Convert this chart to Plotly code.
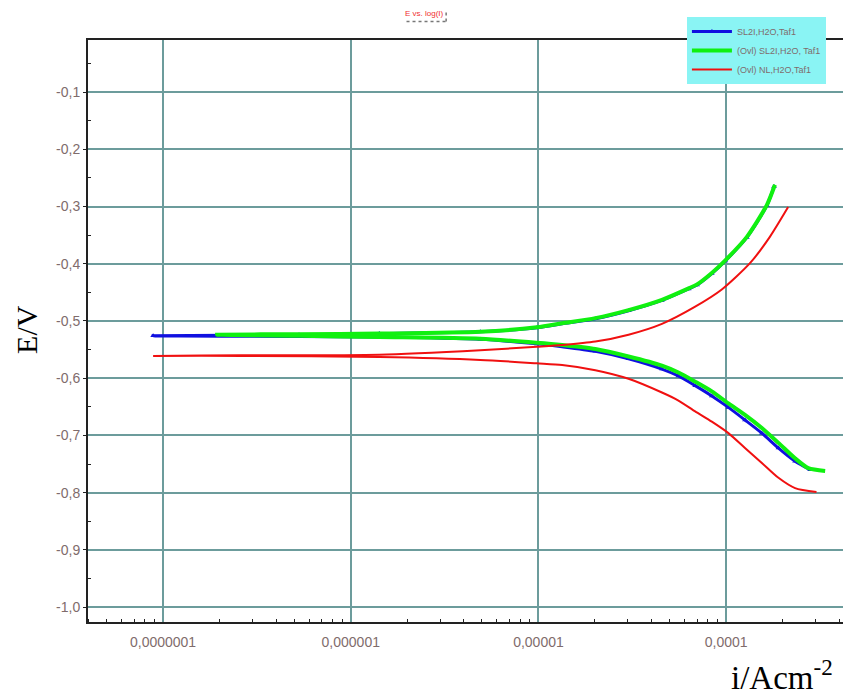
import plotly.graph_objects as go

# ---- data ----
blue_name = "SL2I,H2O,Taf1"
blue_i = [2.80e-4, 2.33e-4, 1.90e-4, 1.55e-4, 1.26e-4, 1.028e-4, 8.39e-5, 6.84e-5, 5.57e-5, 4.55e-5, 3.02e-5, 2.01e-5,
          1.337e-5, 9.8e-6, 4.9e-6, 1.42e-6, 5.3e-7, 8.85e-8,
          5.3e-7, 1.42e-6, 4.9e-6, 9.8e-6, 1.337e-5, 2.01e-5, 3.02e-5, 4.55e-5, 6.31e-5, 7.0e-5, 8.39e-5, 9.9e-5,
          1.29e-4, 1.65e-4, 1.80e-4]
blue_E = [-0.760, -0.745, -0.722, -0.696, -0.673, -0.651, -0.631, -0.613, -0.596, -0.584, -0.566, -0.553,
          -0.545, -0.540, -0.532, -0.528, -0.527, -0.526,
          -0.524, -0.522, -0.519, -0.512, -0.505, -0.496, -0.482, -0.464, -0.444, -0.437, -0.417, -0.395,
          -0.354, -0.298, -0.265]

green_name = "(Ovl) SL2I,H2O, Taf1"
green_i = [3.37e-4, 2.74e-4, 2.33e-4, 1.90e-4, 1.55e-4, 1.26e-4, 1.028e-4, 8.39e-5, 6.84e-5, 5.57e-5, 4.55e-5, 3.02e-5,
           2.01e-5, 1.337e-5, 9.8e-6, 4.9e-6, 1.42e-6, 5.34e-7, 1.94e-7,
           5.3e-7, 1.42e-6, 4.9e-6, 9.8e-6, 1.337e-5, 2.01e-5, 3.02e-5, 4.55e-5, 6.31e-5, 7.0e-5, 8.39e-5, 9.9e-5,
           1.29e-4, 1.65e-4, 1.82e-4]
green_E = [-0.762, -0.757, -0.740, -0.713, -0.687, -0.664, -0.644, -0.623, -0.606, -0.590, -0.578, -0.562,
           -0.549, -0.542, -0.538, -0.531, -0.528, -0.526, -0.524,
           -0.523, -0.522, -0.519, -0.511, -0.504, -0.495, -0.481, -0.463, -0.443, -0.436, -0.416, -0.394,
           -0.353, -0.297, -0.262]

red_name = "(Ovl) NL,H2O,Taf1"
red_i = [3.03e-4, 2.33e-4, 1.90e-4, 1.55e-4, 1.26e-4, 1.028e-4, 8.39e-5, 6.84e-5, 5.57e-5, 4.55e-5, 3.02e-5, 2.01e-5,
         1.337e-5, 9.8e-6, 4.9e-6, 1.42e-6, 2.63e-7, 8.85e-8,
         2.63e-7, 1.42e-6, 4.9e-6, 9.8e-6, 1.337e-5, 2.01e-5, 3.02e-5, 4.55e-5, 6.84e-5, 9.48e-5, 1.34e-4,
         1.71e-4, 2.14e-4]
red_E = [-0.799, -0.792, -0.774, -0.748, -0.722, -0.696, -0.676, -0.658, -0.639, -0.625, -0.601, -0.586,
         -0.577, -0.574, -0.568, -0.563, -0.561, -0.561,
         -0.560, -0.559, -0.551, -0.545, -0.542, -0.536, -0.524, -0.505, -0.475, -0.445, -0.399,
         -0.353, -0.301]

x_tickvals = [1e-7, 1e-6, 1e-5, 1e-4]
x_ticktext = ["0,0000001", "0,000001", "0,00001", "0,0001"]
y_tickvals = [-0.1, -0.2, -0.3, -0.4, -0.5, -0.6, -0.7, -0.8, -0.9, -1.0]
y_ticktext = ["-0,1", "-0,2", "-0,3", "-0,4", "-0,5", "-0,6", "-0,7", "-0,8", "-0,9", "-1,0"]

x_minor = [m * 10.0 ** d for d in range(-8, -3) for m in range(2, 10)]
y_minor = [-0.05 - 0.1 * k for k in range(10)]

GRID = "#6c9c9c"
LABEL = "#7f6c6c"

fig = go.Figure()
fig.add_trace(go.Scatter(x=blue_i, y=blue_E, name=blue_name, mode="lines+markers",
                         line=dict(color="#1010e0", width=3, shape="spline", smoothing=0.7),
                         marker=dict(symbol="triangle-up", size=5, color="#1010e0")))
fig.add_trace(go.Scatter(x=green_i, y=green_E, name=green_name, mode="lines",
                         line=dict(color="#10f010", width=4, shape="spline", smoothing=0.7)))
fig.add_trace(go.Scatter(x=red_i, y=red_E, name=red_name, mode="lines",
                         line=dict(color="#f01010", width=2, shape="spline", smoothing=0.7)))

fig.update_xaxes(type="log", range=[-7.40, -3.34],
                 tickmode="array", tickvals=x_tickvals, ticktext=x_ticktext,
                 ticks="", ticklabelstandoff=6,
                 showgrid=True, gridcolor=GRID, gridwidth=2,
                 showline=True, linecolor="#222", linewidth=2, mirror=True,
                 tickfont=dict(family="Liberation Sans, Arial", size=14, color=LABEL),
                 minor=dict(tickmode="array", tickvals=x_minor, ticks="inside", ticklen=3,
                            tickcolor="#222", showgrid=False),
                 zeroline=False, automargin=False)
fig.update_yaxes(range=[-1.026, -0.009],
                 tickmode="array", tickvals=y_tickvals, ticktext=y_ticktext,
                 ticks="outside", ticklen=3, tickcolor="#222",
                 showgrid=True, gridcolor=GRID, gridwidth=2,
                 showline=True, linecolor="#222", linewidth=2,
                 tickfont=dict(family="Liberation Sans, Arial", size=14, color=LABEL),
                 minor=dict(tickmode="array", tickvals=y_minor, ticks="inside", ticklen=3,
                            tickcolor="#222", showgrid=False),
                 zeroline=False, automargin=False)

fig.add_annotation(text="E/V", xref="paper", yref="paper", x=-0.080, y=0.502,
                   xanchor="center", yanchor="middle", borderpad=0,
                   textangle=-90, showarrow=False,
                   font=dict(family="Liberation Serif, Times New Roman", size=30, color="black"))
fig.add_annotation(text="i/Acm<sup>-2</sup>", xref="paper", yref="paper", x=0.911, y=-0.052,
                   xanchor="center", yanchor="top",
                   showarrow=False,
                   font=dict(family="Liberation Serif, Times New Roman", size=33, color="black"))
fig.add_annotation(text="E vs. log(I)", xref="paper", yref="paper", x=0.442, y=1.045,
                   xanchor="center", yanchor="middle",
                   showarrow=False,
                   font=dict(family="Liberation Sans, Arial", size=8, color="#f03030"))
fig.add_shape(type="line", xref="paper", yref="paper", x0=0.418, x1=0.47, y0=1.032, y1=1.032,
              line=dict(color="#777", width=1.5, dash="dot"))
fig.add_shape(type="line", xref="paper", yref="paper", x0=0.47, x1=0.47, y0=1.032, y1=1.052,
              line=dict(color="#777", width=1.5, dash="dot"))

# the page body has an 8px default margin, so the figure is sized to fill the rest of the window
fig.update_layout(
    width=843, height=687,
    margin=dict(l=80, r=1, t=32, b=73, autoexpand=False),
    paper_bgcolor="white", plot_bgcolor="white",
    showlegend=True,
    legend=dict(x=0.786, y=1.0395, xanchor="left", yanchor="top",
                bgcolor="#8af4f4", bordercolor="#8af4f4", borderwidth=0,
                font=dict(family="Liberation Sans, Arial", size=9, color=LABEL),
                itemwidth=40, tracegroupgap=0),
)

fig.write_html("out.html")
